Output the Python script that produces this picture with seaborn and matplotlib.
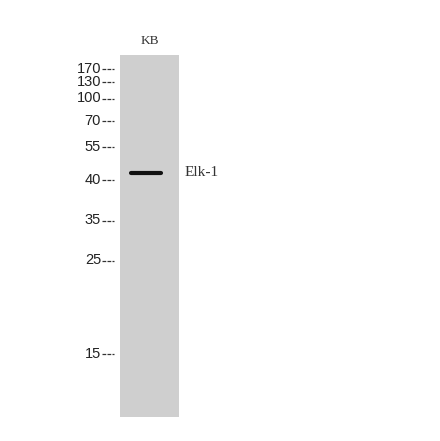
import pandas as pd
import seaborn as sns
import matplotlib.pyplot as plt

# blot data (y = migration position in image rows)
lanes = ["KB"]
marker_kda = ["170", "130", "100", "70", "55", "40", "35", "25", "15"]
marker_pos = [69, 81.5, 98.5, 121, 147, 180, 220.5, 260.5, 354]
band_names = ["Elk-1"]
band_pos = [173]

sns.set_style("white")

fig = plt.figure(figsize=(4.4, 4.41), dpi=100)
ax = fig.add_axes([0, 0, 1, 1])

# lane
lane_left, lane_right, lane_top, lane_bottom = 119.5, 179.3, 54.5, 417
ax.fill_between([lane_left, lane_right], lane_top, lane_bottom,
                color="#cfcfcf", linewidth=0)
ax.text((lane_left + lane_right) / 2, 41, lanes[0], ha="center", va="center",
        fontsize=9.5, family="Liberation Serif", color="#333333")

# marker ladder
markers = pd.DataFrame({"kda": marker_kda, "pos": marker_pos})
for _, row in markers.iterrows():
    ax.text(101, row["pos"], row["kda"], ha="right", va="center",
            fontsize=10.5, family="Liberation Sans", color="#222222")
    ax.plot([101.5, 114], [row["pos"], row["pos"]], color="#333333",
            linewidth=0.9, linestyle=(0, (3, 1)))

# band
bands = pd.DataFrame({"x": [131, 161], "y": [band_pos[0]] * 2})
sns.lineplot(data=bands, x="x", y="y", ax=ax, color="#111111",
             linewidth=3.0, solid_capstyle="round")
ax.text(185, band_pos[0], band_names[0], ha="left", va="center",
        fontsize=11, family="Liberation Serif", color="#333333")

ax.set_xlim(0, 440)
ax.set_ylim(441, 0)
ax.axis("off")
fig.savefig("out.png", dpi=100)
